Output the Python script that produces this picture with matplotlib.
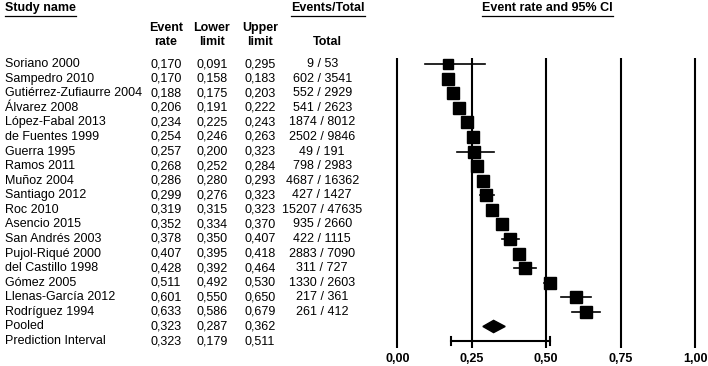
import numpy as np
import matplotlib
matplotlib.use("Agg")
import matplotlib.pyplot as plt
from matplotlib.patches import Polygon

plt.rcParams['font.family'] = ['Liberation Sans', 'DejaVu Sans']

studies = ['Soriano 2000', 'Sampedro 2010', 'Gutiérrez-Zufiaurre 2004', 'Álvarez 2008',
           'López-Fabal 2013', 'de Fuentes 1999', 'Guerra 1995', 'Ramos 2011',
           'Muñoz 2004', 'Santiago 2012', 'Roc 2010', 'Asencio 2015', 'San Andrés 2003',
           'Pujol-Riqué 2000', 'del Castillo 1998', 'Gómez 2005', 'Llenas-García 2012',
           'Rodríguez 1994']
rate = [0.170, 0.170, 0.188, 0.206, 0.234, 0.254, 0.257, 0.268, 0.286, 0.299,
        0.319, 0.352, 0.378, 0.407, 0.428, 0.511, 0.601, 0.633]
lower = [0.091, 0.158, 0.175, 0.191, 0.225, 0.246, 0.200, 0.252, 0.280, 0.276,
         0.315, 0.334, 0.350, 0.395, 0.392, 0.492, 0.550, 0.586]
upper = [0.295, 0.183, 0.203, 0.222, 0.243, 0.263, 0.323, 0.284, 0.293, 0.323,
         0.323, 0.370, 0.407, 0.418, 0.464, 0.530, 0.650, 0.679]
events = [9, 602, 552, 541, 1874, 2502, 49, 798, 4687, 427,
          15207, 935, 422, 2883, 311, 1330, 217, 261]
totals = [53, 3541, 2929, 2623, 8012, 9846, 191, 2983, 16362, 1427,
          47635, 2660, 1115, 7090, 727, 2603, 361, 412]
pooled = (0.323, 0.287, 0.362)
pred = (0.323, 0.179, 0.511)
ticks = [0.0, 0.25, 0.5, 0.75, 1.0]


def fmt(v):
    return f"{v:.3f}".replace('.', ',')


fig = plt.figure(figsize=(7.08, 3.66), dpi=100)
ax = fig.add_axes([0, 0, 1, 1])
ax.set_xlim(-397.5 / 297.5, 310.5 / 297.5)
ax.set_ylim(20.71, -4.39)
ax.axis('off')

fs = 9
tr = ax.get_yaxis_transform()  # x in axes fraction, y in rows

# vertical reference lines
for t in ticks:
    ax.plot([t, t], [-0.41, 19.48], color='black', lw=1.5, solid_capstyle='butt')
    ax.text(t, 20.2, f"{t:.2f}".replace('.', ','), ha='center', va='center',
            fontsize=fs, fontweight='bold')

# studies
n = len(studies)
ms = np.minimum(9.3, 6.0 + 1.1 * np.log10(totals))
for i in range(n):
    ax.plot([lower[i], upper[i]], [i, i], color='black', lw=1.2)
    ax.plot(rate[i], i, marker='s', color='black', ms=ms[i], mec='black')
    ax.text(0.007, i, studies[i], transform=tr, ha='left', va='center', fontsize=fs)
    ax.text(0.2345, i, fmt(rate[i]), transform=tr, ha='center', va='center', fontsize=fs)
    ax.text(0.2994, i, fmt(lower[i]), transform=tr, ha='center', va='center', fontsize=fs)
    ax.text(0.367, i, fmt(upper[i]), transform=tr, ha='center', va='center', fontsize=fs)
    ax.text(0.455, i, f"{events[i]} / {totals[i]}", transform=tr, ha='center',
            va='center', fontsize=fs)

# pooled and prediction interval
yp, yq = n, n + 1
for y, lab, vals in [(yp, 'Pooled', pooled), (yq, 'Prediction Interval', pred)]:
    ax.text(0.007, y, lab, transform=tr, ha='left', va='center', fontsize=fs)
    ax.text(0.2345, y, fmt(vals[0]), transform=tr, ha='center', va='center', fontsize=fs)
    ax.text(0.2994, y, fmt(vals[1]), transform=tr, ha='center', va='center', fontsize=fs)
    ax.text(0.367, y, fmt(vals[2]), transform=tr, ha='center', va='center', fontsize=fs)

ax.add_patch(Polygon([[pooled[1], yp], [pooled[0], yp - 0.42],
                      [pooled[2], yp], [pooled[0], yp + 0.42]],
                     closed=True, color='black'))
ax.plot([pred[1], pred[2]], [yq, yq], color='black', lw=1.5)
for x in (pred[1], pred[2]):
    ax.plot([x, x], [yq - 0.3, yq + 0.3], color='black', lw=1.5)

# column headers
hdr = dict(transform=tr, ha='center', va='center', fontsize=fs, fontweight='bold')
ax.text(0.2345, -2.5, 'Event', **hdr)
ax.text(0.2345, -1.5, 'rate', **hdr)
ax.text(0.2994, -2.5, 'Lower', **hdr)
ax.text(0.2994, -1.5, 'limit', **hdr)
ax.text(0.367, -2.5, 'Upper', **hdr)
ax.text(0.367, -1.5, 'limit', **hdr)
ax.text(0.462, -1.5, 'Total', **hdr)

titles = [
    ax.text(0.007, -3.84, 'Study name', transform=tr, ha='left', va='center',
            fontsize=fs, fontweight='bold'),
    ax.text(0.463, -3.84, 'Events/Total', **hdr),
    ax.text(0.773, -3.84, 'Event rate and 95% CI', **hdr),
]

# underline the top titles
fig.canvas.draw()
r = fig.canvas.get_renderer()
for t in titles:
    bb = t.get_window_extent(renderer=r)
    y0 = bb.y0 - 1.5
    fig.add_artist(plt.Line2D([bb.x0 / 708, bb.x1 / 708], [y0 / 366, y0 / 366],
                              color='black', lw=0.9))

fig.savefig('out.png', dpi=100)
